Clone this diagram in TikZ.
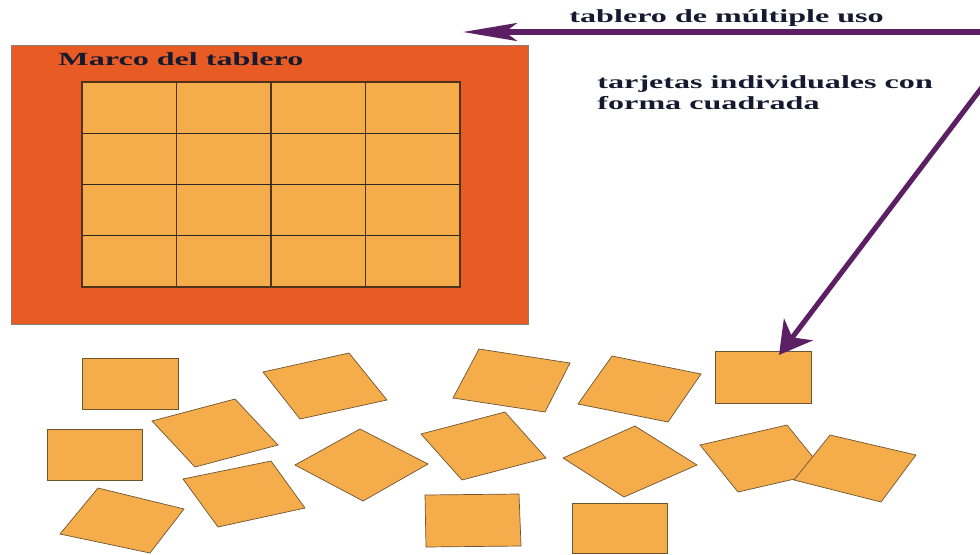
\documentclass[tikz,border=0pt]{standalone}
\usepackage{fontspec}
\setmainfont{Liberation Serif}
\usetikzlibrary{shapes.geometric, arrows.meta, positioning, calc}
\definecolor{framecolor}{RGB}{233, 91, 36}
\definecolor{cardcolor}{RGB}{245, 172, 75}
\definecolor{cardedge}{RGB}{110, 85, 50}
\definecolor{arrowcolor}{RGB}{92, 31, 99}
\definecolor{textcolor}{RGB}{22, 26, 48}
\tikzset{
  card/.style={fill=cardcolor, draw=cardedge, line width=0.5pt},
  pointer/.style={draw=arrowcolor, line width=3.6pt},
  label/.style={font=\fontsize{13.2}{14.9}\selectfont\bfseries, text=textcolor, inner sep=0pt, xscale=1.73, anchor=base west, align=left}
}

\begin{document}
\begin{tikzpicture}[x=0.025cm, y=-0.025cm]
\useasboundingbox (0,0) rectangle (980,554);
\filldraw[fill=framecolor, draw=gray!80!brown, line width=0.6pt] (11,45) rectangle (528,324);
\node[label] (framelabel) at (58,65) {Marco del tablero};
\fill[cardcolor] (82,82) rectangle (460,287);
\foreach \i in {1,2,3} {
    \pgfmathsetmacro{\gx}{82+94.5*\i}
    \pgfmathsetmacro{\gy}{82+51.25*\i}
    \draw[black!60!brown, line width=1.3pt] (\gx,82) -- (\gx,287);
    \draw[black!85, line width=0.8pt] (82,\gy) -- (460,\gy);
}
\draw[black!60!brown, line width=1.2pt] (82,82) rectangle (460,287);
\foreach \a/\b/\c/\d in {
    {(82,358)}/{(178,358)}/{(178,409)}/{(82,409)},
    {(47,429)}/{(142,429)}/{(142,480)}/{(47,480)},
    {(152,421)}/{(235,399)}/{(278,445)}/{(195,467)},
    {(263,372)}/{(349,353)}/{(387,400)}/{(300,419)},
    {(98,488)}/{(184,509)}/{(150,553)}/{(60,534)},
    {(183,479)}/{(271,461)}/{(305,508)}/{(218,527)},
    {(295,465)}/{(360,429)}/{(428,464)}/{(363,501)},
    {(479,349)}/{(570,363)}/{(545,412)}/{(453,398)},
    {(612,356)}/{(701,374)}/{(668,422)}/{(578,404)},
    {(715,351)}/{(811,351)}/{(811,403)}/{(715,403)},
    {(421,434)}/{(505,412)}/{(546,458)}/{(462,480)},
    {(563,458)}/{(635,426)}/{(697,465)}/{(624,497)},
    {(700,445)}/{(787,425)}/{(825,472)}/{(738,492)},
    {(830,435)}/{(916,455)}/{(881,502)}/{(794,480)},
    {(425,495)}/{(519,494)}/{(521,546)}/{(426,547)},
    {(572,503)}/{(667,503)}/{(667,553)}/{(572,553)}} {
    \filldraw[card] \a -- \b -- \c -- \d -- cycle;
}
\node[label] (boardlabel) at (569,22) {tablero de múltiple uso};
\node[label] (cardlabel) at (597,109) {tarjetas individuales con\\forma cuadrada};
\coordinate (boardtail) at (985,32);
\coordinate (boardtip) at (463,32);
\coordinate (cardtail) at (986,82);
\coordinate (cardtip) at (779,355);
\draw[pointer, -{Stealth[length=1.35cm, width=0.45cm, inset=0.3cm]}] (boardtail) -- (boardtip);
\draw[pointer, -{Stealth[length=0.8cm, width=0.9cm, inset=0.25cm]}] (cardtail) -- (cardtip);
\end{tikzpicture}
\end{document}
